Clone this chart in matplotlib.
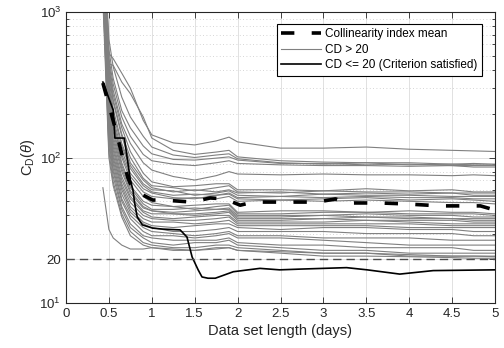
import numpy as np
import matplotlib
matplotlib.use("Agg")
from matplotlib import pyplot as plt

plt.rcParams['font.family'] = ['Liberation Sans', 'DejaVu Sans']
plt.rcParams['mathtext.fontset'] = 'custom'
plt.rcParams['mathtext.rm'] = 'Liberation Sans'
plt.rcParams['mathtext.it'] = 'Liberation Sans:italic'

# data set length (days) where the gray curves are sampled
xg = [0.43, 0.5, 0.55, 0.65, 0.75, 0.9, 1.0, 1.25, 1.5, 1.75, 1.9, 2.0, 2.5, 3.0, 3.5, 4.0, 4.5, 4.75, 5.0]

# CD > 20 curves
cd_high = [
    [5000, 520, 478, 380, 300, 180, 143, 126, 122, 130, 138, 128, 116, 116, 118, 114, 112, 111, 110],
    [4500, 440, 430, 330, 275, 190, 136, 112, 105, 109, 112, 101, 95, 93, 92, 92, 90, 91, 90],
    [4000, 650, 420, 260, 190, 140, 118, 104, 100, 104, 106, 98, 92, 90, 92, 89, 90, 89, 89],
    [4000, 550, 350, 210, 160, 120, 106, 97, 96, 99, 101, 96, 91, 91, 89, 90, 88, 88, 88],
    [3800, 480, 320, 190, 140, 105, 95, 90, 88, 92, 95, 91, 89, 88, 88, 87, 88, 86, 86],
    [3500, 450, 290, 170, 125, 92, 82, 74, 70, 75, 80, 77, 76, 77, 76, 76, 75, 76, 75],
    [3500, 420, 270, 160, 110, 78, 68, 63, 64, 66, 66, 60, 60, 59, 61, 59, 60, 58, 58],
    [3200, 400, 250, 145, 100, 72, 64, 62, 59, 62, 64, 58, 57, 59, 58, 58, 57, 57, 57],
    [3200, 370, 240, 140, 92, 70, 62, 58, 60, 58, 60, 57, 58, 56, 57, 56, 57, 55, 55],
    [3000, 350, 215, 125, 88, 66, 60, 59, 55, 57, 59, 55, 54, 56, 55, 55, 54, 54, 54],
    [3000, 320, 200, 120, 84, 64, 58, 55, 56, 55, 57, 53, 54, 53, 54, 53, 53, 52, 52],
    [2800, 300, 185, 112, 78, 61, 57, 53, 52, 55, 56, 52, 51, 52, 53, 51, 52, 51, 50],
    [2800, 290, 175, 105, 74, 58, 54, 52, 53, 52, 54, 50, 51, 50, 51, 50, 49, 49, 48],
    [2600, 260, 170, 100, 70, 54, 49, 46, 47, 48, 48, 42, 43, 43, 42, 43, 42, 42, 41],
    [2600, 250, 160, 92, 64, 50, 47, 46, 44, 46, 47, 41, 41, 42, 42, 41, 41, 41, 40],
    [2500, 240, 150, 88, 62, 48, 44, 44, 45, 44, 45, 40, 40, 40, 41, 40, 40, 39, 39],
    [2500, 225, 140, 84, 59, 46, 43, 42, 43, 44, 44, 39, 39, 40, 39, 39, 38, 38, 38],
    [2400, 215, 132, 80, 57, 45, 43, 41, 41, 42, 43, 38, 38, 38, 39, 38, 38, 37, 37],
    [2400, 210, 125, 74, 54, 43, 41, 41, 40, 41, 42, 37, 37, 38, 37, 37, 37, 36, 36],
    [2200, 200, 118, 70, 52, 42, 39, 38, 39, 40, 40, 36, 36, 36, 37, 36, 35, 35, 35],
    [2200, 185, 112, 66, 49, 40, 38, 37, 37, 38, 39, 35, 35, 35, 35, 35, 34, 34, 34],
    [2000, 175, 105, 63, 46, 38, 36, 36, 35, 36, 37, 34, 34, 34, 34, 33, 33, 33, 33],
    [2000, 165, 100, 60, 44, 36, 34, 33, 34, 35, 35, 33, 32, 33, 33, 32, 32, 31, 31],
    [1800, 160, 95, 56, 42, 35, 33, 31, 31, 32, 33, 31, 31, 31, 30, 30, 30, 29, 29],
    [1800, 150, 90, 52, 40, 33, 31, 30, 29, 30, 31, 29, 29, 28, 28, 28, 27, 27, 27],
    [1600, 140, 84, 50, 38, 31, 29, 29, 28, 29, 30, 28, 28, 27, 26, 25, 25, 25, 25],
    [1600, 130, 80, 46, 35, 29, 28, 27, 27, 27, 28, 26, 25, 25, 24, 24, 24, 23, 23],
    [1400, 120, 74, 44, 33, 28, 26, 25, 26, 26, 27, 25, 24, 23, 23, 22, 22, 22, 22],
    [1400, 110, 68, 41, 31, 26, 25, 24, 24, 25, 25, 24, 23, 22, 22, 21, 21, 21, 21],
    [1200, 100, 64, 39, 29, 25, 24, 23, 23, 24, 24, 23, 22, 21, 21, 20.8, 20.5, 20.3, 20.3],
    [62, 32, 28, 25, 23.5, 23.5, 24, 23.5, 23, 23.5, 24, 23, 22.5, 22, 22, 21.5, 21, 21, 20.8],
]

# CD <= 20 curve
low_x = [0.43, 0.55, 0.57, 0.68, 0.75, 0.78, 0.80, 0.83, 0.89, 1.01, 1.13, 1.33, 1.41, 1.47,
         1.54, 1.585, 1.655, 1.74, 1.95, 2.26, 2.49, 2.73, 3.27, 3.51, 3.89, 4.28, 5.0]
low_y = [330, 212, 136, 136, 70, 60, 48.6, 39, 34.4, 32.7, 32.2, 31.8, 28.4, 20.7,
         16.9, 15.1, 14.8, 14.8, 16.4, 17.3, 16.9, 17.1, 17.5, 16.9, 15.8, 16.7, 16.9]

# collinearity index mean
mean_x = [0.43, 0.57, 0.72, 0.78, 0.94, 1.01, 1.13, 1.47, 1.68, 1.85, 2.03, 2.18, 2.58,
          2.93, 3.14, 3.29, 3.66, 3.95, 4.36, 4.71, 4.83, 5.0]
mean_y = [325, 162, 73, 60, 53.6, 51, 51, 49.4, 52.7, 52, 47, 49.4, 49.4,
          49.4, 51.9, 48.7, 48.7, 48, 46.5, 46.5, 46.5, 43.5]

threshold = 20
xticks = [0, 0.5, 1, 1.5, 2, 2.5, 3, 3.5, 4, 4.5, 5]
xtick_labels = ['0', '0.5', '1', '1.5', '2', '2.5', '3', '3.5', '4', '4.5', '5']
yticks = [10, 20, 100, 1000]
ytick_labels = ['$10^1$', '20', '$10^2$', '$10^3$']

fig = plt.figure(figsize=(5.04, 3.48), dpi=100)
ax = fig.add_axes([66/504, 45/348, 429/504, 291/348])

for i, row in enumerate(cd_high):
    ax.plot(xg, row, color='#808080', lw=0.8, label='CD > 20' if i == 0 else None, zorder=2)

ax.plot(low_x, low_y, color='k', lw=1.2, label='CD <= 20 (Criterion satisfied)', zorder=3)
ax.plot(mean_x, mean_y, color='k', lw=2.6, dashes=(3.7, 4.8),
        label='Collinearity index mean', zorder=4)
ax.axhline(threshold, color='#4d4d4d', lw=1.0, dashes=(6, 3.6), zorder=3)

ax.set_yscale('log')
ax.set_xlim(0, 5)
ax.set_ylim(10, 1000)
ax.set_xticks(xticks)
ax.set_xticklabels(xtick_labels)
ax.set_yticks(yticks)
ax.set_yticklabels(ytick_labels)

ax.grid(True, which='major', color='#dcdcdc', lw=0.6, ls='-')
ax.grid(True, which='minor', axis='y', color='#c8c8c8', lw=0.6, ls=(0, (1, 3)))
ax.set_axisbelow(True)

ax.tick_params(which='both', direction='in', top=True, right=True, labelsize=9.5, colors='#262626')
ax.tick_params(which='major', length=4, width=0.6)
ax.tick_params(which='minor', length=2.5, width=0.6)
ax.tick_params(axis='x', which='minor', bottom=False, top=False)
for s in ax.spines.values():
    s.set_color('#262626')
    s.set_linewidth(0.8)

ax.set_xlabel('Data set length (days)', fontsize=10.5, color='#262626', labelpad=3)
ax.set_ylabel(r'C$_\mathrm{D}$($\theta$)', fontsize=10.5, color='#262626', labelpad=2)

h, l = ax.get_legend_handles_labels()
order = [l.index('Collinearity index mean'), l.index('CD > 20'), l.index('CD <= 20 (Criterion satisfied)')]
leg = ax.legend([h[k] for k in order], [l[k] for k in order], loc='upper right',
                bbox_to_anchor=(0.97, 0.96), borderaxespad=0, fontsize=8.5,
                fancybox=False, framealpha=1, edgecolor='k', handlelength=3.4,
                handletextpad=0.3, labelspacing=0.3, borderpad=0.4)
leg.get_frame().set_linewidth(0.8)

fig.savefig('out.png', dpi=100)
